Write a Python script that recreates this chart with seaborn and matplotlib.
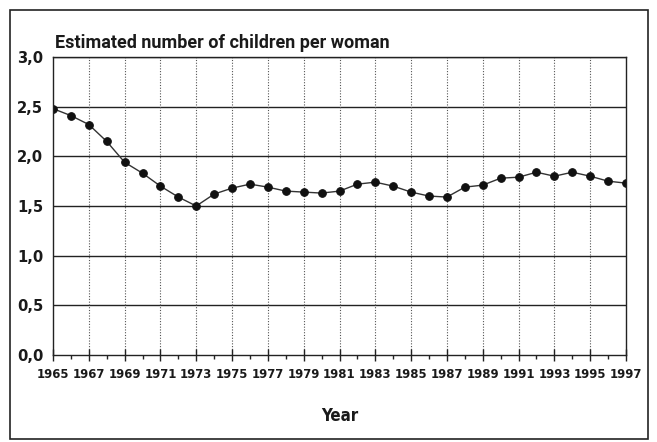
import matplotlib
matplotlib.use("Agg")
import matplotlib.pyplot as plt
import seaborn as sns
import pandas as pd
from matplotlib.patches import Rectangle
from matplotlib.ticker import MultipleLocator
from matplotlib import font_manager as fm

years = list(range(1965, 1998))
children = [2.48, 2.41, 2.32, 2.15, 1.94, 1.83, 1.70, 1.59, 1.50, 1.62,
            1.68, 1.72, 1.69, 1.65, 1.64, 1.63, 1.65, 1.72, 1.74, 1.70,
            1.64, 1.60, 1.59, 1.69, 1.71, 1.78, 1.79, 1.84, 1.80, 1.84,
            1.80, 1.75, 1.73]
y_ticks = [0.0, 0.5, 1.0, 1.5, 2.0, 2.5, 3.0]
y_labels = ["0,0", "0,5", "1,0", "1,5", "2,0", "2,5", "3,0"]
x_ticks = list(range(1965, 1998, 2))
title = "Estimated number of children per woman"
xlabel = "Year"

sns.set_theme(style="white")
plt.rcParams["font.family"] = ["Roboto", "DejaVu Sans"]


def find_condensed():
    best = None
    for f in fm.fontManager.ttflist:
        name = f.name
        st = str(f.stretch)
        cond = ("Narrow" in name or "Condensed" in name or "Cond" in name
                or st in ("condensed", "semi-condensed", "extra-condensed", "ultra-condensed")
                or (st.isdigit() and int(st) < 500))
        if not cond:
            continue
        w = f.weight if isinstance(f.weight, int) else {"bold": 700, "normal": 400}.get(str(f.weight), 400)
        if f.style != "normal":
            continue
        score = -abs(w - 700)
        if best is None or score > best[0]:
            best = (score, f.fname)
    return best[1] if best else None


cond_path = find_condensed()
if cond_path:
    cond_prop = fm.FontProperties(fname=cond_path)
else:
    cond_prop = fm.FontProperties(family=["Roboto", "DejaVu Sans"], weight="bold")
title_prop = fm.FontProperties(family=["Roboto", "DejaVu Sans"], weight="bold")

df = pd.DataFrame({"Year": years, "Children": children})

fig = plt.figure(figsize=(6.57, 4.42), dpi=100)
renderer = fig.canvas.get_renderer()


def fit_size(text, width_px, prop, max_size):
    p = prop.copy()
    p.set_size(10)
    t = fig.text(0, 0, text, fontproperties=p)
    w = t.get_window_extent(renderer).width
    t.remove()
    return min(max_size, 10 * width_px / w)


xt_size = fit_size("1965", 32.5, cond_prop, 13)
yt_size = fit_size("3,0", 26, cond_prop, 14)
title_size = fit_size(title, 335, title_prop, 15)
xl_size = fit_size(xlabel, 37, cond_prop, 16)

ax = fig.add_axes([53/657, 1-355/442, (626-53)/657, (355-57)/442])

sns.lineplot(data=df, x="Year", y="Children", ax=ax, color="#333333",
             linewidth=1.0, marker="o", markersize=5.5,
             markerfacecolor="#111111", markeredgecolor="#111111")

ax.set_xlim(1965, 1997)
ax.set_ylim(0, 3.0)
ax.set_yticks(y_ticks)
ax.set_yticklabels(y_labels)
ax.set_xticks(x_ticks)
ax.set_xticklabels([str(x) for x in x_ticks])
for lab in ax.get_xticklabels():
    p = cond_prop.copy(); p.set_size(xt_size); lab.set_fontproperties(p); lab.set_color("#1a1a1a")
for lab in ax.get_yticklabels():
    p = cond_prop.copy(); p.set_size(yt_size); lab.set_fontproperties(p); lab.set_color("#1a1a1a")
ax.xaxis.set_minor_locator(MultipleLocator(1))

ax.grid(False)
for yv in y_ticks[1:]:
    ax.axhline(yv, color="#222222", linewidth=1.0, zorder=0)
for xv in x_ticks[1:-1]:
    ax.axvline(xv, color="#555555", linewidth=0.8, linestyle=(0, (1, 1.5)), zorder=0)

for s in ["left", "right", "top", "bottom"]:
    ax.spines[s].set_visible(True)
    ax.spines[s].set_color("#222222")
    ax.spines[s].set_linewidth(1.0)

ax.tick_params(axis="x", which="major", direction="inout", length=8, width=1,
               color="#222222", pad=5, bottom=True)
ax.tick_params(axis="x", which="minor", direction="out", length=3, width=1,
               color="#222222", bottom=True)
ax.tick_params(axis="y", which="major", length=0, pad=7)

p = cond_prop.copy(); p.set_size(xl_size)
ax.set_xlabel(xlabel, fontproperties=p, labelpad=19, color="#1a1a1a")
ax.set_ylabel("")
p = title_prop.copy(); p.set_size(title_size)
fig.text(55/657, 1-48/442, title, fontproperties=p, ha="left", va="baseline",
         color="#1a1a1a")

fig.patches.append(Rectangle((10/657, 3/442), (648-10)/657, (432-3)/442,
                             transform=fig.transFigure, fill=False,
                             edgecolor="#222222", linewidth=1.2))

fig.savefig("out.png", dpi=100)
